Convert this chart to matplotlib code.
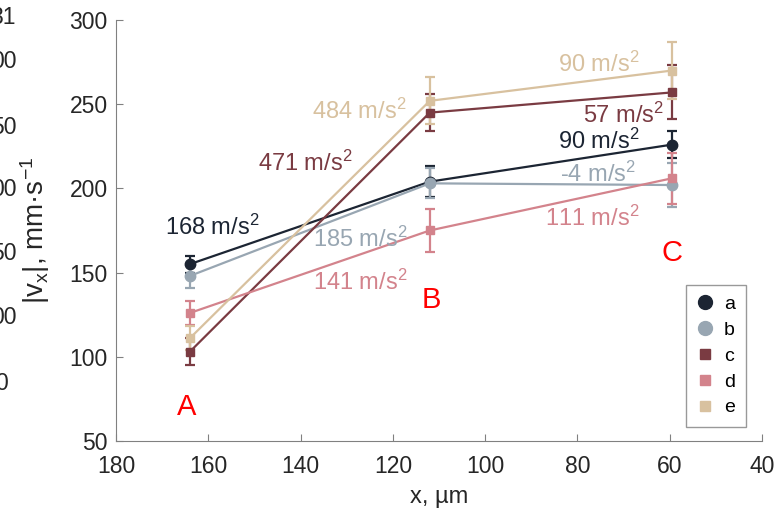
#!/usr/bin/env python3
import matplotlib
matplotlib.use('Agg')
import matplotlib.pyplot as plt

plt.rcParams['font.family'] = ['Liberation Sans', 'DejaVu Sans']
plt.rcParams['mathtext.fontset'] = 'custom'
plt.rcParams['mathtext.rm'] = 'Liberation Sans'
plt.rcParams['mathtext.it'] = 'Liberation Sans'
plt.rcParams['mathtext.default'] = 'regular'

# positions of the three measurement points (um)
x_pos = [164, 112, 59.5]
point_names = ['A', 'B', 'C']

series_names = ['a', 'b', 'c', 'd', 'e']
vx_a = [155, 204, 226]
vx_b = [148, 203, 202]
vx_c = [103, 245, 257]
vx_d = [126, 175, 206]
vx_e = [111, 252, 270]
err_a = [5, 9, 8]
err_b = [7, 9, 13]
err_c = [8, 11, 16]
err_d = [7, 13, 15]
err_e = [7, 14, 17]

# acceleration labels: (series, text, x, y), left aligned
accel_labels = [
    ('a', '168', 169.4, 177),
    ('b', '185', 137.3, 170),
    ('d', '141', 137.3, 144.5),
    ('c', '471', 149.2, 215),
    ('e', '484', 137.5, 245.5),
    ('e', '90', 84.2, 273.5),
    ('c', '57', 78.8, 243.5),
    ('a', '90', 84.2, 228),
    ('b', '-4', 83.8, 208.5),
    ('d', '111', 87.0, 182.5),
]

point_label_pos = [(164.8, 70), (111.7, 133.5), (59.5, 161.5)]

# partial tick labels of a neighbouring panel, cut off at the left edge
clipped_labels = ['31', '00', '50', '00', '50', '00', '0']
clipped_y = [18, 62, 127, 190, 253, 318, 383]
clipped_right = [16, 17, 17, 17, 17, 17, 8]

COLORS = {'a': '#1c2533', 'b': '#98a6b2', 'c': '#7a3b42',
          'd': '#d3838c', 'e': '#d8c19f'}
MARKERS = {'a': 'o', 'b': 'o', 'c': 's', 'd': 's', 'e': 's'}
MSIZE = {'a': 7.5, 'b': 7.5, 'c': 6, 'd': 6, 'e': 6}
LEG_MSIZE = {'a': 10, 'b': 10, 'c': 7, 'd': 7, 'e': 7}


def main():
    fig = plt.figure(figsize=(7.76, 5.08), dpi=100)
    ax = fig.add_axes([0.1495, 0.132, 0.8325, 0.8286])

    values = {'a': vx_a, 'b': vx_b, 'c': vx_c, 'd': vx_d, 'e': vx_e}
    errors = {'a': err_a, 'b': err_b, 'c': err_c, 'd': err_d, 'e': err_e}

    for name in series_names:
        col = COLORS[name]
        ax.errorbar(x_pos, values[name], yerr=errors[name], color=col,
                    marker=MARKERS[name], markersize=MSIZE[name],
                    linewidth=1.6, elinewidth=1.6, capsize=3.5,
                    capthick=1.6, label=name)

    for name, val, xt, yt in accel_labels:
        ax.text(xt, yt, val + ' m/s$^2$', color=COLORS[name], fontsize=17,
                ha='left', va='center')

    for lab, (xt, yt) in zip(point_names, point_label_pos):
        ax.text(xt, yt, lab, color='red', fontsize=21, ha='center',
                va='center')

    ax.set_xlim(180, 40)
    ax.set_ylim(50, 300)
    ax.set_xticks(range(180, 39, -20))
    ax.set_yticks(range(50, 301, 50))
    ax.tick_params(direction='in', length=5, labelsize=16.5,
                   colors='#808080', labelcolor='#262626', pad=6)
    ax.tick_params(axis='x', pad=10)
    for side in ['top', 'right']:
        ax.spines[side].set_visible(False)
    for side in ['left', 'bottom']:
        ax.spines[side].set_color('#808080')

    ax.set_xlabel('x, µm', fontsize=17, color='#262626')
    ax.set_ylabel('|v$_x$|, mm·s$^{-1}$', fontsize=20, color='#262626')
    ax.xaxis.set_label_coords(0.5, -0.107)
    ax.yaxis.set_label_coords(-0.099, 0.5)

    handles = [plt.Line2D([], [], linestyle='none', marker=MARKERS[n],
                          markersize=LEG_MSIZE[n], color=COLORS[n])
               for n in series_names]
    leg = ax.legend(handles, series_names, loc='lower right',
                    bbox_to_anchor=(0.975, 0.033), fontsize=14,
                    frameon=True, fancybox=False, edgecolor='#808080',
                    handletextpad=0.6, borderpad=0.55, labelspacing=0.42,
                    handlelength=0.8, borderaxespad=0)
    leg.get_frame().set_linewidth(1.0)

    for lab, yp, xr in zip(clipped_labels, clipped_y, clipped_right):
        fig.text(xr / 776, 1 - yp / 508, lab, fontsize=16.5,
                 color='#262626', ha='right', va='center')

    plt.savefig('out.png', dpi=100)


if __name__ == '__main__':
    main()
